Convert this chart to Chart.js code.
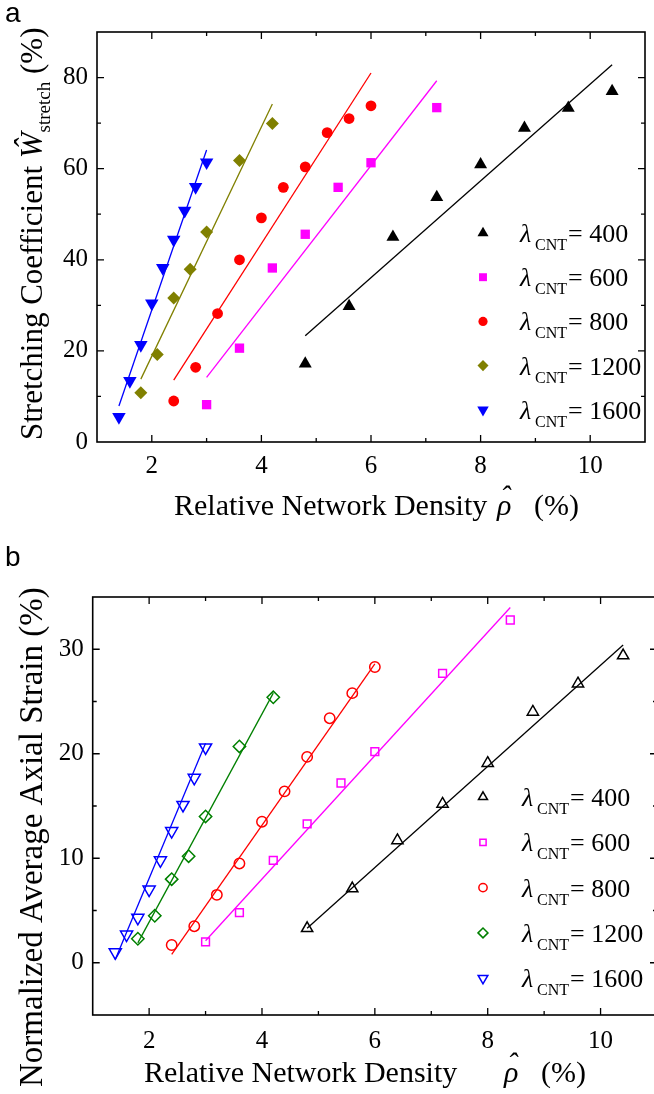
<!DOCTYPE html>
<html>
<head>
<meta charset="utf-8">
<script src="https://cdn.jsdelivr.net/npm/chart.js@4.4.1/dist/chart.umd.min.js"></script>
<style>
  html, body { margin: 0; padding: 0; background: #fff; overflow: hidden; }
  #wrap { position: relative; width: 654px; height: 1094px; overflow: hidden; background: #fff; }
  #panelA { position: absolute; left: 0; top: 0; }
  #panelB { position: absolute; left: 0; top: 540px; }
</style>
</head>
<body>
<div id="wrap">
  <canvas id="panelA" width="654" height="540"></canvas>
  <canvas id="panelB" width="668" height="554"></canvas>
</div>
<script>
// relative network density (x) per lambda
const rho400 = [4.8, 5.6, 6.4, 7.2, 8.0, 8.8, 9.6, 10.4];
const rho600 = [3.0, 3.6, 4.2, 4.8, 5.4, 6.0, 7.2];
const rho600b = [3.0, 3.6, 4.2, 4.8, 5.4, 6.0, 7.2, 8.4];
const rho800 = [2.4, 2.8, 3.2, 3.6, 4.0, 4.4, 4.8, 5.2, 5.6, 6.0];
const rho1200 = [1.8, 2.1, 2.4, 2.7, 3.0, 3.6, 4.2];
const rho1600 = [1.4, 1.6, 1.8, 2.0, 2.2, 2.4, 2.6, 2.8, 3.0];

// panel a: stretching coefficient (%)
const w400 = [17.2, 29.8, 45.0, 53.7, 60.9, 68.9, 73.3, 77.0];
const w600 = [8.2, 20.6, 38.2, 45.6, 55.9, 61.3, 73.4];
const w800 = [9.0, 16.4, 28.2, 40.0, 49.2, 55.9, 60.4, 67.9, 71.0, 73.8];
const w1200 = [10.8, 19.2, 31.6, 37.9, 46.1, 61.8, 69.9];
const w1600 = [5.5, 13.4, 21.3, 30.4, 38.2, 44.4, 50.8, 56.0, 61.4];

// panel b: normalized average axial strain (%)
const s400 = [3.3, 7.1, 11.7, 15.2, 19.1, 24.0, 26.7, 29.4];
const s600 = [2.0, 4.8, 9.8, 13.3, 17.2, 20.2, 27.7, 32.8];
const s800 = [1.7, 3.5, 6.5, 9.5, 13.5, 16.4, 19.7, 23.4, 25.8, 28.3];
const s1200 = [2.3, 4.5, 8.0, 10.2, 14.0, 20.7, 25.4];
const s1600 = [1.0, 2.7, 4.3, 7.0, 9.8, 12.6, 15.1, 17.7, 20.6];

// linear fit end points [start, end]
const fitRhoA = { l400: [4.8, 10.4], l600: [3.0, 7.2], l800: [2.4, 6.0], l1200: [1.8, 4.2], l1600: [1.4, 3.0] };
const fitW400 = [23.3, 82.8];
const fitW600 = [14.2, 79.3];
const fitW800 = [13.6, 81.0];
const fitW1200 = [13.8, 74.2];
const fitW1600 = [7.9, 64.1];
const fitRhoB600 = [3.0, 8.4];
const fitS400 = [3.3, 30.4];
const fitS600 = [2.1, 34.0];
const fitS800 = [0.8, 28.6];
const fitS1200 = [1.9, 25.8];
const fitS1600 = [0.3, 21.0];

const lambdaLabels = ['400', '600', '800', '1200', '1600'];
const xTicksA = [2, 4, 6, 8, 10];
const yTicksA = [0, 20, 40, 60, 80];
const yTicksB = [0, 10, 20, 30];

const serif = "'Liberation Serif', 'Times New Roman', serif";

function pts(xs, ys) {
    return xs.map((x, i) => ({ x: x, y: ys[i] }));
}

function markerSet(label, xs, ys, color, style, rot, radius, filled) {
    return {
        label: label,
        data: pts(xs, ys),
        showLine: false,
        pointStyle: style,
        rotation: rot,
        pointRadius: radius,
        pointHoverRadius: radius,
        backgroundColor: filled ? color : 'rgba(0,0,0,0)',
        borderColor: color,
        borderWidth: filled ? 0 : 1.5,
        legendRadius: filled ? radius * 0.85 : radius * 0.8
    };
}

function fitSet(xs, ys, color) {
    return {
        label: 'fit',
        data: pts(xs, ys),
        showLine: true,
        borderColor: color,
        borderWidth: 1.3,
        pointRadius: 0,
        pointHoverRadius: 0,
        fill: false
    };
}

const framePlugin = {
    id: 'frameTicks',
    afterDraw(chart, args, opts) {
        const { ctx, chartArea: a } = chart;
        const x = chart.scales.x, y = chart.scales.y;
        ctx.save();
        ctx.strokeStyle = '#000';
        ctx.lineWidth = 1.6;
        ctx.strokeRect(a.left, a.top, a.right - a.left, a.bottom - a.top);
        ctx.lineWidth = 1.3;
        ctx.beginPath();
        x.ticks.forEach(t => {
            const px = x.getPixelForValue(t.value);
            if (px <= a.left + 1 || px >= a.right - 1) return;
            const len = t.value % opts.xMajor === 0 ? 7 : 4;
            ctx.moveTo(px, a.bottom); ctx.lineTo(px, a.bottom - len);
            ctx.moveTo(px, a.top); ctx.lineTo(px, a.top + len);
        });
        y.ticks.forEach(t => {
            const py = y.getPixelForValue(t.value);
            if (py <= a.top + 1 || py >= a.bottom - 1) return;
            const len = t.value % opts.yMajor === 0 ? 7 : 4;
            ctx.moveTo(a.left, py); ctx.lineTo(a.left + len, py);
            ctx.moveTo(a.right, py); ctx.lineTo(a.right - len, py);
        });
        ctx.stroke();
        ctx.restore();
    }
};

// legend with lambda_CNT labels, drawn inside the plot area
const lambdaLegend = {
    id: 'lambdaLegend',
    afterDraw(chart, args, opts) {
        const ctx = chart.ctx;
        const sets = chart.data.datasets.filter(d => d.label !== 'fit');
        ctx.save();
        ctx.fillStyle = '#000';
        ctx.textBaseline = 'alphabetic';
        ctx.textAlign = 'left';
        sets.forEach((d, i) => {
            const cy = opts.y0 + i * opts.dy;
            ctx.save();
            ctx.fillStyle = d.backgroundColor;
            ctx.strokeStyle = d.borderColor;
            ctx.lineWidth = d.borderWidth;
            Chart.helpers.drawPoint(ctx, {
                pointStyle: d.pointStyle, rotation: d.rotation,
                radius: d.legendRadius, borderWidth: d.borderWidth
            }, opts.markerX, cy);
            ctx.restore();
            ctx.fillStyle = '#000';
            ctx.font = 'italic 26px ' + serif;
            ctx.fillText('\u03BB', opts.textX, cy + 9);
            ctx.font = '16px ' + serif;
            ctx.fillText('CNT', opts.textX + 15, cy + 17);
            ctx.font = '26px ' + serif;
            ctx.fillText('= ' + d.label, opts.textX + 48, cy + 9);
        });
        ctx.restore();
    }
};

// text runs along one baseline; a run with hat:true gets a circumflex above it
function drawRuns(ctx, runs, ox, oy, rotated) {
    ctx.save();
    ctx.translate(ox, oy);
    if (rotated) ctx.rotate(-Math.PI / 2);
    ctx.fillStyle = '#000';
    ctx.textBaseline = 'alphabetic';
    ctx.textAlign = 'left';
    let cur = 0;
    runs.forEach(r => {
        ctx.font = r.font;
        if (r.at !== undefined) cur = r.at;
        ctx.fillText(r.text, cur, r.dy || 0);
        const w = ctx.measureText(r.text).width;
        if (r.hat) {
            const hw = ctx.measureText('\u02C6').width;
            ctx.fillText('\u02C6', cur + w / 2 - hw / 2 + 1, -9);
        }
        cur += w;
    });
    ctx.restore();
}

function baseOptions(yMin, yMax, yStep, yLabels, axisH, yW, padTop, padRight, xMajor, yMajor, xPad) {
    const tickFont = { family: serif, size: 25 };
    return {
        responsive: false,
        animation: false,
        events: [],
        layout: { padding: { top: padTop, right: padRight, left: 0, bottom: 0 } },
        scales: {
            x: {
                type: 'linear', min: 1, max: 11,
                grid: { display: false, drawTicks: false },
                border: { display: false },
                ticks: {
                    stepSize: 1, autoSkip: false, maxRotation: 0, color: '#000', font: tickFont, padding: xPad,
                    callback: v => xTicksA.includes(v) ? String(v) : ''
                },
                afterFit: s => { s.height = axisH; }
            },
            y: {
                type: 'linear', min: yMin, max: yMax,
                grid: { display: false, drawTicks: false },
                border: { display: false },
                ticks: {
                    stepSize: yStep, autoSkip: false, color: '#000', font: tickFont, padding: 9,
                    callback: v => yLabels.includes(v) ? String(v) : ''
                },
                afterFit: s => { s.width = yW; }
            }
        },
        plugins: {
            legend: { display: false },
            tooltip: { enabled: false },
            frameTicks: { xMajor: xMajor, yMajor: yMajor }
        }
    };
}

// ---- panel a ----
const optsA = baseOptions(0, 90, 10, yTicksA, 98, 97, 32, 1, 2, 20, 9);
optsA.plugins.lambdaLegend = { markerX: 483, textX: 520, y0: 233, dy: 44.2 };

new Chart(document.getElementById('panelA'), {
    type: 'scatter',
    data: {
        datasets: [
            fitSet(fitRhoA.l400, fitW400, '#000000'),
            fitSet(fitRhoA.l600, fitW600, '#ff00ff'),
            fitSet(fitRhoA.l800, fitW800, '#ff0000'),
            fitSet(fitRhoA.l1200, fitW1200, '#808000'),
            fitSet(fitRhoA.l1600, fitW1600, '#0000ff'),
            markerSet(lambdaLabels[0], rho400, w400, '#000000', 'triangle', 0, 7.5, true),
            markerSet(lambdaLabels[1], rho600, w600, '#ff00ff', 'rect', 0, 6.6, true),
            markerSet(lambdaLabels[2], rho800, w800, '#ff0000', 'circle', 0, 5.4, true),
            markerSet(lambdaLabels[3], rho1200, w1200, '#808000', 'rectRot', 0, 6.5, true),
            markerSet(lambdaLabels[4], rho1600, w1600, '#0000ff', 'triangle', 180, 7.8, true)
        ]
    },
    options: optsA,
    plugins: [framePlugin, lambdaLegend, {
        id: 'titlesA',
        afterDraw(chart) {
            const ctx = chart.ctx;
            ctx.save();
            ctx.fillStyle = '#000';
            ctx.font = '28px "Liberation Sans", Arial, sans-serif';
            ctx.fillText('a', 5, 22);
            ctx.restore();
            drawRuns(ctx, [
                { text: 'Relative Network Density', font: '30px ' + serif, at: 174 },
                { text: '\u03C1', font: 'italic 30px ' + serif, at: 497, hat: true },
                { text: '(%)', font: '30px ' + serif, at: 534 }
            ], 0, 515, false);
            drawRuns(ctx, [
                { text: 'Stretching Coefficient ', font: '31px ' + serif },
                { text: '\u0174', font: 'italic 31px ' + serif },
                { text: 'stretch', font: '19px ' + serif, dy: 8 },
                { text: ' (%)', font: '31px ' + serif }
            ], 42, 440, true);
        }
    }]
});

// ---- panel b ----
const optsB = baseOptions(-5, 35, 5, yTicksB, 79, 92.7, 57, 3, 2, 10, 11);
optsB.plugins.lambdaLegend = { markerX: 483, textX: 522, y0: 257, dy: 45.3 };

new Chart(document.getElementById('panelB'), {
    type: 'scatter',
    data: {
        datasets: [
            fitSet(fitRhoA.l400, fitS400, '#000000'),
            fitSet(fitRhoB600, fitS600, '#ff00ff'),
            fitSet(fitRhoA.l800, fitS800, '#ff0000'),
            fitSet(fitRhoA.l1200, fitS1200, '#008000'),
            fitSet(fitRhoA.l1600, fitS1600, '#0000ff'),
            markerSet(lambdaLabels[0], rho400, s400, '#000000', 'triangle', 0, 6.5, false),
            markerSet(lambdaLabels[1], rho600b, s600, '#ff00ff', 'rect', 0, 5.5, false),
            markerSet(lambdaLabels[2], rho800, s800, '#ff0000', 'circle', 0, 5.2, false),
            markerSet(lambdaLabels[3], rho1200, s1200, '#008000', 'rectRot', 0, 6.2, false),
            markerSet(lambdaLabels[4], rho1600, s1600, '#0000ff', 'triangle', 180, 7, false)
        ]
    },
    options: optsB,
    plugins: [framePlugin, lambdaLegend, {
        id: 'titlesB',
        afterDraw(chart) {
            const ctx = chart.ctx;
            ctx.save();
            ctx.fillStyle = '#000';
            ctx.font = '28px "Liberation Sans", Arial, sans-serif';
            ctx.fillText('b', 5, 26);
            ctx.restore();
            drawRuns(ctx, [
                { text: 'Relative Network Density', font: '30px ' + serif, at: 144 },
                { text: '\u03C1', font: 'italic 30px ' + serif, at: 504, hat: true },
                { text: '(%)', font: '30px ' + serif, at: 541 }
            ], 0, 542, false);
            drawRuns(ctx, [
                { text: 'Normalized Average Axial Strain (%)', font: '33px ' + serif }
            ], 42, 547, true);
        }
    }]
});
</script>
</body>
</html>
